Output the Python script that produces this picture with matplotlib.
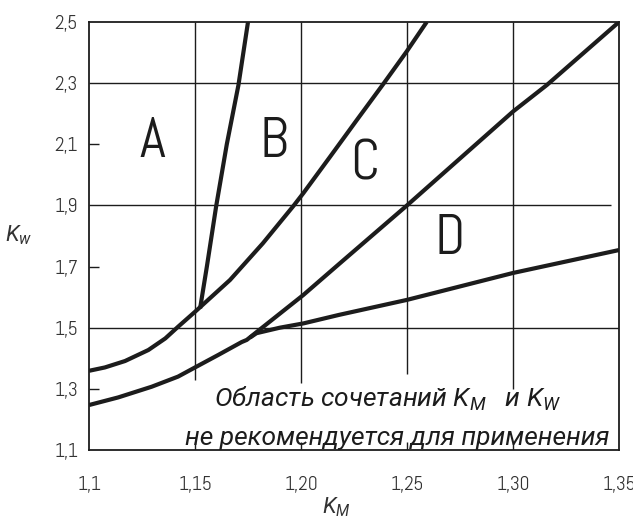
"""K_w vs K_M region chart (A, B, C, D)."""
import matplotlib
matplotlib.use("Agg")
import matplotlib.pyplot as plt

# curves
c1_km = [1.100, 1.1075, 1.117, 1.128, 1.136, 1.142, 1.150, 1.1665, 1.182, 1.1964,
         1.2011, 1.2137, 1.2263, 1.2388, 1.2498, 1.2593]
c1_kw = [1.359, 1.370, 1.391, 1.427, 1.465, 1.503, 1.552, 1.656, 1.776, 1.898,
         1.940, 2.059, 2.179, 2.297, 2.403, 2.500]
c2_km = [1.1524, 1.1556, 1.160, 1.165, 1.1705, 1.175]
c2_kw = [1.563, 1.700, 1.898, 2.100, 2.294, 2.500]
c3_km = [1.100, 1.1138, 1.1296, 1.142, 1.150, 1.161, 1.172, 1.1744, 1.2011, 1.2184,
         1.250, 1.300, 1.316, 1.350]
c3_kw = [1.247, 1.272, 1.307, 1.340, 1.370, 1.411, 1.453, 1.460, 1.607, 1.711,
         1.900, 2.207, 2.294, 2.500]
c4_km = [1.176, 1.179, 1.190, 1.2011, 1.218, 1.250, 1.300, 1.350]
c4_kw = [1.468, 1.482, 1.500, 1.514, 1.542, 1.591, 1.679, 1.754]

x_ticks = [1.10, 1.15, 1.20, 1.25, 1.30, 1.35]
x_labels = ["1,1", "1,15", "1,20", "1,25", "1,30", "1,35"]
y_ticks = [1.1, 1.3, 1.5, 1.7, 1.9, 2.1, 2.3, 2.5]
y_labels = ["1,1", "1,3", "1,5", "1,7", "1,9", "2,1", "2,3", "2,5"]

regions = ["A", "B", "C", "D"]
region_xy = [(1.130, 2.107), (1.187, 2.107), (1.230, 2.032), (1.270, 1.787)]

note_1 = "Область сочетаний $K_M$   и $K_W$"
note_2 = "не рекомендуется для применения"

INK = "#1c1c1c"
THIN = ["Abel", "DejaVu Sans"]
SLANT = ["Roboto", "IBM Plex Sans", "DejaVu Sans"]
plt.rcParams.update({"mathtext.fontset": "custom",
                     "mathtext.it": "Roboto:italic",
                     "mathtext.rm": "Roboto"})

fig = plt.figure(figsize=(6.33, 5.23), dpi=100)
ax = fig.add_axes([0.1406, 0.1396, 0.8373, 0.8184])
ax.set_xlim(1.10, 1.35); ax.set_ylim(1.1, 2.5)

# grid, drawn by hand because it is broken under the note
for x, lo in zip([1.15, 1.20, 1.25, 1.30], [1.33, 1.32, 1.35, 1.30]):
    ax.vlines(x, lo, 2.5, color=INK, lw=1.0)
    ax.vlines(x, 1.1, 1.125, color=INK, lw=1.0)
for y, hi in zip([2.3, 1.9, 1.5], [1.35, 1.346, 1.35]):
    ax.hlines(y, 1.10, hi, color=INK, lw=1.0)
for y in [2.1, 1.7, 1.3]:
    ax.hlines(y, 1.10, 1.1047, color=INK, lw=1.0)

for km, kw in [(c1_km, c1_kw), (c2_km, c2_kw), (c3_km, c3_kw), (c4_km, c4_kw)]:
    ax.plot(km, kw, color=INK, lw=3.0, solid_capstyle="butt", solid_joinstyle="round")

for s, (x, y) in zip(regions, region_xy):
    ax.text(x, y, s, fontsize=40, ha="center", va="center", color=INK, family=THIN)

ax.text(1.2406, 1.268, note_1, fontsize=19, style="italic",
        ha="center", va="center", color=INK, family=SLANT)
ax.text(1.2453, 1.138, note_2, fontsize=19, style="italic",
        ha="center", va="center", color=INK, family=SLANT)

ax.set_xticks(x_ticks, x_labels); ax.set_yticks(y_ticks, y_labels)
ax.tick_params(length=0, labelsize=14, labelcolor="#333333")
ax.tick_params(axis="x", pad=19); ax.tick_params(axis="y", pad=8)
for lab in ax.get_xticklabels() + ax.get_yticklabels():
    lab.set_family(THIN)
for sp in ax.spines.values():
    sp.set_linewidth(1.3); sp.set_color(INK)

fig.text(0.0300, 0.5507, "$K_w$", fontsize=16, ha="center", va="center", color="#333333")
fig.text(0.5320, 0.0306, "$K_M$", fontsize=16, ha="center", va="center", color="#333333")

fig.savefig("out.png", dpi=100, facecolor="white")
